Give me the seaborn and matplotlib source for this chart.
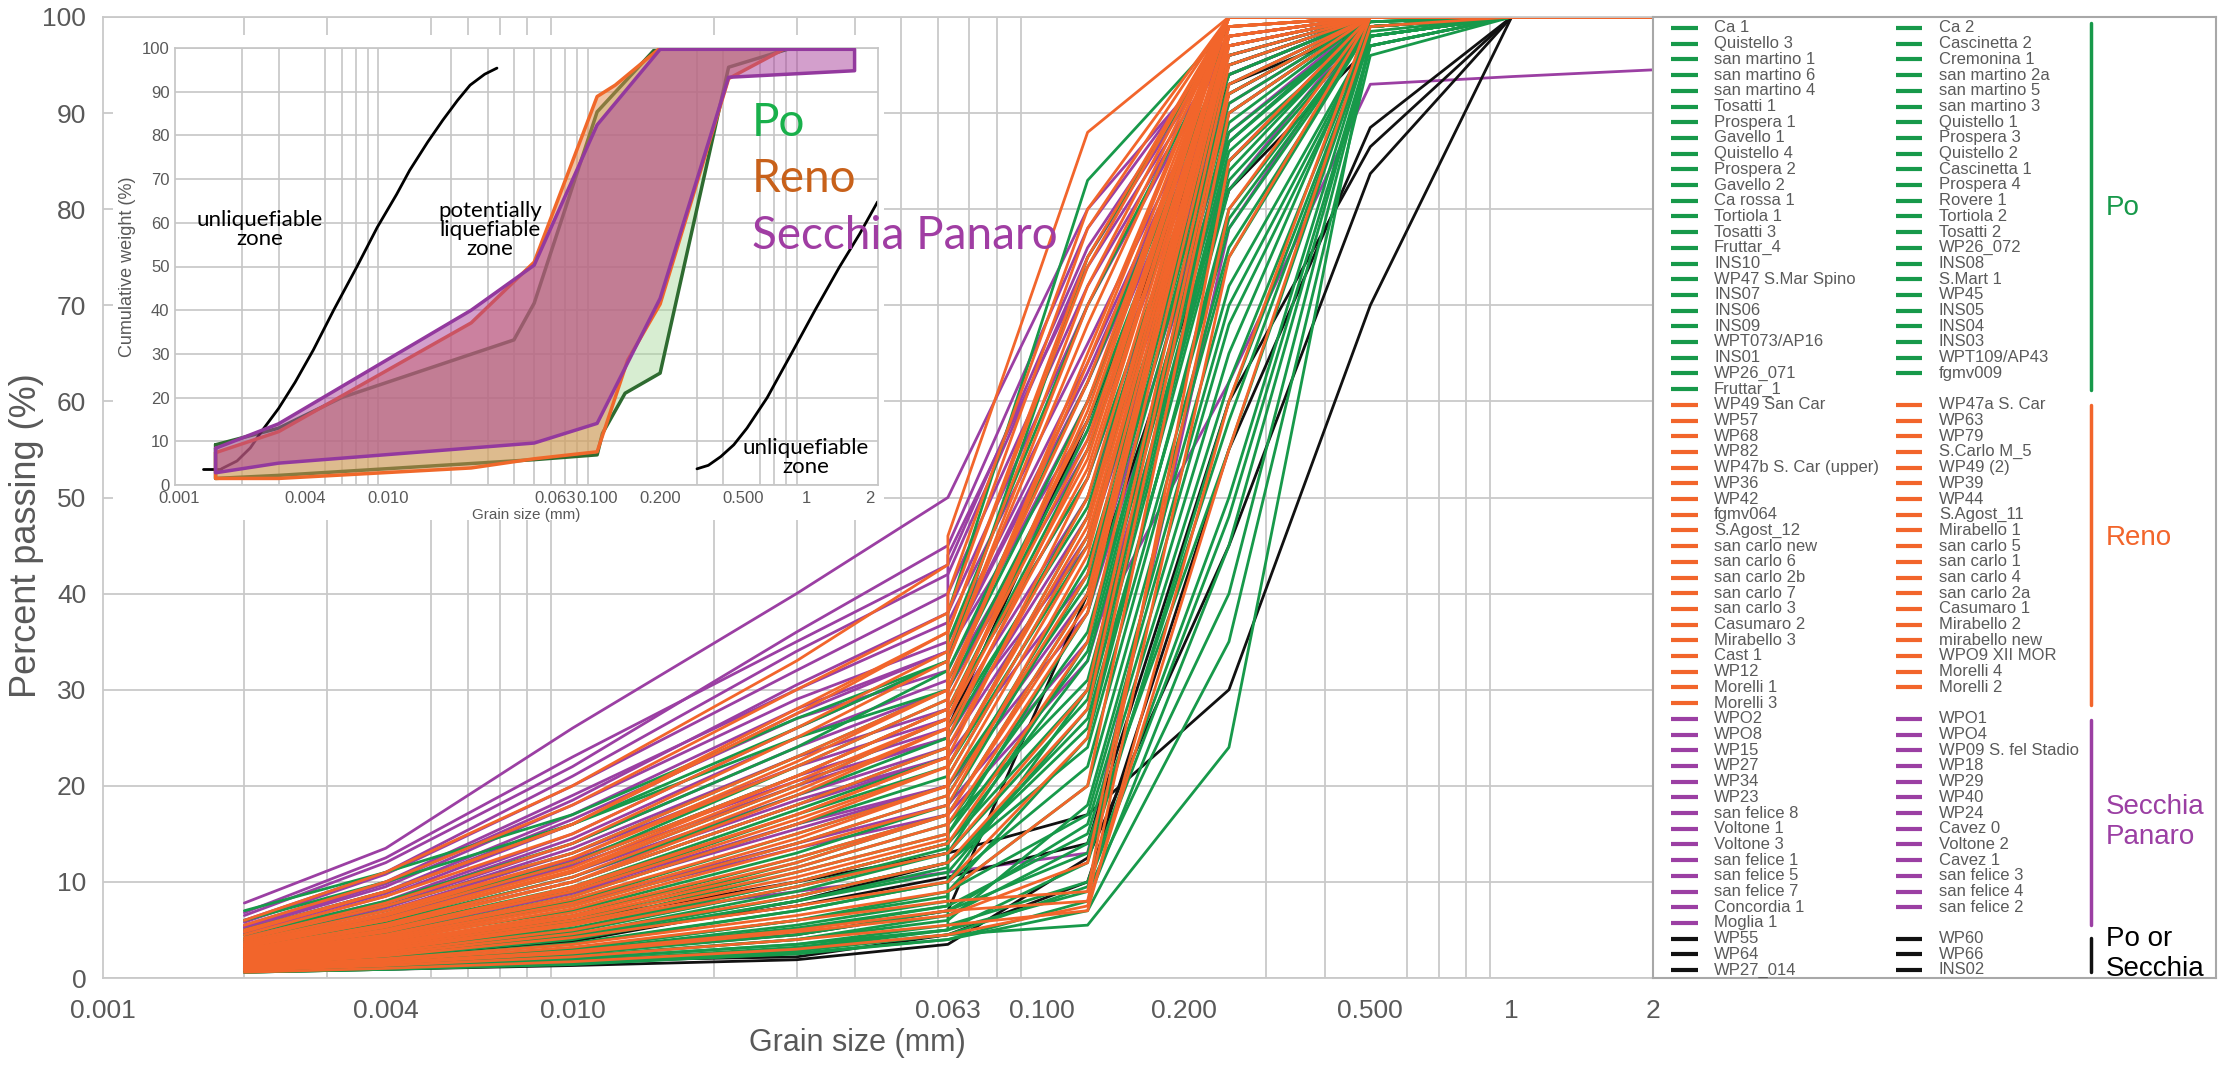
import matplotlib
matplotlib.use("Agg")
import matplotlib.pyplot as plt
import numpy as np
import pandas as pd
import seaborn as sns
from matplotlib.ticker import FixedLocator, NullFormatter

# ---------------- data ----------------
sizes = [0.002, 0.004, 0.01, 0.03, 0.063, 0.063, 0.125, 0.25, 0.5, 1, 2]

po_names = ["Ca 1", "Ca 2", "Quistello 3", "Cascinetta 2", "san martino 1", "Cremonina 1",
            "san martino 6", "san martino 2a", "san martino 4", "san martino 5", "Tosatti 1",
            "san martino 3", "Prospera 1", "Quistello 1", "Gavello 1", "Prospera 3", "Quistello 4",
            "Quistello 2", "Prospera 2", "Cascinetta 1", "Gavello 2", "Prospera 4", "Ca rossa 1",
            "Rovere 1", "Tortiola 1", "Tortiola 2", "Tosatti 3", "Tosatti 2", "Fruttar_4", "WP26_072",
            "INS10", "INS08", "WP47 S.Mar Spino", "S.Mart 1", "INS07", "WP45", "INS06", "INS05",
            "INS09", "INS04", "WPT073/AP16", "INS03", "INS01", "WPT109/AP43", "WP26_071", "fgmv009",
            "Fruttar_1"]
po_pass = [
    [1.2, 2.0, 3.5, 7, 10, 10, 30, 85, 99, 100, 100],
    [0.8, 1.3, 2.2, 4, 6, 6, 18, 70, 98, 100, 100],
    [2.5, 4.5, 8, 15, 20, 22, 45, 92, 100, 100, 100],
    [1.5, 2.5, 4.5, 9, 13, 13, 35, 88, 99.5, 100, 100],
    [0.7, 1.1, 1.8, 3, 5, 5, 12, 60, 98, 100, 100],
    [3.5, 6, 11, 20, 27, 27, 55, 95, 100, 100, 100],
    [1.0, 1.5, 2.5, 4.5, 7, 7, 16, 65, 99, 100, 100],
    [0.6, 0.9, 1.5, 2.5, 4, 4, 8, 45, 97, 100, 100],
    [1.1, 1.8, 3, 6, 9, 9, 25, 80, 99, 100, 100],
    [0.9, 1.4, 2.3, 4, 6.5, 6.5, 14, 55, 98, 100, 100],
    [4.5, 8, 14, 24, 32, 32, 62, 97, 100, 100, 100],
    [0.8, 1.2, 2, 3.5, 5.5, 5.5, 10, 50, 98, 100, 100],
    [2, 3.5, 6, 12, 17, 17, 40, 90, 100, 100, 100],
    [3, 5.5, 10, 18, 24, 28, 52, 94, 100, 100, 100],
    [1.8, 3, 5.5, 11, 15, 15, 38, 89, 100, 100, 100],
    [2.2, 4, 7, 13, 18, 18, 42, 91, 100, 100, 100],
    [5, 9, 16, 26, 33, 35, 70, 98, 100, 100, 100],
    [4, 7, 12, 22, 29, 30, 58, 96, 100, 100, 100],
    [1.6, 2.8, 5, 10, 14, 14, 33, 86, 99, 100, 100],
    [1.3, 2.2, 4, 8, 11, 11, 28, 82, 99, 100, 100],
    [2.8, 5, 9, 17, 22, 22, 48, 93, 100, 100, 100],
    [1.9, 3.2, 5.8, 11.5, 16, 16, 36, 87, 100, 100, 100],
    [0.9, 1.3, 2, 3.5, 5, 5, 9, 40, 97, 100, 100],
    [7, 11, 17, 27, 33, 33, 75, 99, 100, 100, 100],
    [1.4, 2.4, 4.2, 8.5, 12, 12, 27, 78, 99, 100, 100],
    [1.7, 2.9, 5.2, 10, 14, 14, 30, 84, 99.5, 100, 100],
    [3.2, 5.8, 10.5, 19, 25, 25, 50, 95, 100, 100, 100],
    [2.6, 4.6, 8.5, 16, 21, 21, 46, 92, 100, 100, 100],
    [1.0, 1.6, 2.8, 5.5, 8, 9, 20, 72, 98, 100, 100],
    [0.8, 1.1, 1.7, 3.2, 5, 7, 13, 58, 98, 100, 100],
    [1.5, 2.6, 4.8, 9.5, 13, 15, 34, 87, 99.5, 100, 100],
    [0.7, 1.0, 1.6, 3, 4.5, 4.5, 5.5, 24, 98, 100, 100],
    [2.4, 4.2, 7.5, 14, 19, 19, 43, 92, 100, 100, 100],
    [3.8, 6.5, 12, 21, 28, 28, 57, 96, 100, 100, 100],
    [1.2, 2, 3.6, 7, 10, 12, 26, 79, 99, 100, 100],
    [6, 10, 16, 25, 30, 38, 83, 99, 100, 100, 100],
    [1.1, 1.7, 3, 6, 8.5, 10, 22, 75, 99, 100, 100],
    [0.9, 1.5, 2.6, 5, 7.5, 9, 17, 68, 98, 100, 100],
    [2.1, 3.7, 6.5, 12.5, 17, 20, 41, 90, 100, 100, 100],
    [1.3, 2.3, 4.1, 8, 11.5, 13, 29, 83, 99, 100, 100],
    [0.6, 0.9, 1.4, 2.6, 4, 4, 7, 35, 96, 100, 100],
    [2.9, 5.2, 9.5, 17.5, 23, 26, 49, 94, 100, 100, 100],
    [1.6, 2.7, 4.9, 9.5, 13.5, 16, 31, 85, 99.5, 100, 100],
    [0.7, 1.0, 1.6, 2.8, 4.5, 4.5, 9.5, 48, 97, 100, 100],
    [4.2, 7.5, 13, 23, 30, 31, 60, 97, 100, 100, 100],
    [1.0, 1.6, 2.7, 5.2, 7.5, 7.5, 15, 62, 98.5, 100, 100],
    [1.4, 2.3, 4.3, 8.5, 12, 12, 24, 76, 99, 100, 100],
]

reno_names = ["WP49 San Car", "WP47a S. Car", "WP57", "WP63", "WP68", "WP79", "WP82", "S.Carlo M_5",
              "WP47b S. Car (upper)", "WP49 (2)", "WP36", "WP39", "WP42", "WP44", "fgmv064",
              "S.Agost_11", "S.Agost_12", "Mirabello 1", "san carlo new", "san carlo 5",
              "san carlo 6", "san carlo 1", "san carlo 2b", "san carlo 4", "san carlo 7",
              "san carlo 2a", "san carlo 3", "Casumaro 1", "Casumaro 2", "Mirabello 2",
              "Mirabello 3", "mirabello new", "Cast 1", "WPO9 XII MOR", "WP12", "Morelli 4",
              "Morelli 1", "Morelli 2", "Morelli 3"]
reno_pass = [
    [3, 5.5, 10, 19, 26, 30, 65, 100, 100, 100, 100],
    [2, 3.5, 6.5, 12, 17, 17, 40, 98, 100, 100, 100],
    [4, 7.5, 13, 23, 30, 36, 75, 100, 100, 100, 100],
    [1.5, 2.7, 5, 9.5, 13, 13, 30, 95, 100, 100, 100],
    [5, 9, 16, 28, 36, 40, 80, 100, 100, 100, 100],
    [2.5, 4.5, 8.5, 16, 22, 25, 55, 100, 100, 100, 100],
    [3.5, 6.5, 12, 21, 28, 33, 70, 100, 100, 100, 100],
    [1.2, 2, 3.5, 6.5, 9, 9, 20, 90, 100, 100, 100],
    [6, 11, 20, 33, 43, 46, 88, 100, 100, 100, 100],
    [2.8, 5, 9.5, 17, 23, 23, 52, 99, 100, 100, 100],
    [3.2, 6, 11, 20, 27, 27, 60, 100, 100, 100, 100],
    [1.8, 3.2, 6, 11, 15, 20, 45, 97, 100, 100, 100],
    [4.5, 8.5, 15, 26, 34, 34, 72, 100, 100, 100, 100],
    [2.2, 4, 7.5, 14, 19, 19, 42, 98, 100, 100, 100],
    [0.8, 1.3, 2.2, 4, 5.5, 5.5, 7, 60, 100, 100, 100],
    [1, 1.6, 2.8, 5, 7, 7, 8, 75, 100, 100, 100],
    [1.1, 1.8, 3.2, 6, 8, 8, 9, 85, 100, 100, 100],
    [3.8, 7, 12.5, 22, 29, 31, 62, 100, 100, 100, 100],
    [2.6, 4.8, 9, 16.5, 22, 22, 48, 99, 100, 100, 100],
    [3, 5.6, 10.5, 19.5, 26, 29, 58, 100, 100, 100, 100],
    [4.2, 7.8, 14, 25, 33, 33, 68, 100, 100, 100, 100],
    [2.4, 4.4, 8.2, 15, 20, 24, 50, 99, 100, 100, 100],
    [3.4, 6.2, 11.5, 21, 28, 28, 56, 100, 100, 100, 100],
    [2, 3.6, 6.8, 12.5, 17, 21, 46, 98, 100, 100, 100],
    [5.5, 10, 18, 30, 38, 38, 78, 100, 100, 100, 100],
    [1.6, 2.9, 5.5, 10, 14, 14, 35, 96, 100, 100, 100],
    [2.9, 5.3, 10, 18, 24, 27, 54, 100, 100, 100, 100],
    [1.3, 2.3, 4.2, 7.5, 10, 10, 25, 92, 100, 100, 100],
    [1.9, 3.4, 6.3, 11.5, 16, 16, 38, 97, 100, 100, 100],
    [3.6, 6.7, 12.5, 22.5, 30, 30, 64, 100, 100, 100, 100],
    [2.3, 4.2, 7.8, 14.5, 20, 22, 47, 99, 100, 100, 100],
    [4.8, 9, 16, 27.5, 36, 36, 74, 100, 100, 100, 100],
    [0.6, 1, 1.7, 3, 4.5, 4.5, 7.5, 55, 99, 100, 100],
    [1.4, 2.5, 4.6, 8.5, 12, 12, 28, 93, 100, 100, 100],
    [2.7, 5, 9.3, 17, 23, 26, 53, 99, 100, 100, 100],
    [1.7, 3, 5.7, 10.5, 14.5, 17, 39, 97, 100, 100, 100],
    [3.3, 6, 11.2, 20.5, 27, 27, 59, 100, 100, 100, 100],
    [2.1, 3.8, 7.2, 13.5, 18, 18, 44, 98, 100, 100, 100],
    [0.9, 1.5, 2.6, 4.8, 6.5, 6.5, 12, 80, 100, 100, 100],
]

sp_names = ["WPO2", "WPO1", "WPO8", "WPO4", "WP15", "WP09 S. fel Stadio", "WP27", "WP18", "WP34",
            "WP29", "WP23", "WP40", "san felice 8", "WP24", "Voltone 1", "Cavez 0", "Voltone 3",
            "Voltone 2", "san felice 1", "Cavez 1", "san felice 5", "san felice 3", "san felice 7",
            "san felice 4", "Concordia 1", "san felice 2", "Moglia 1"]
sp_pass = [
    [7.8, 13.5, 26, 40, 50, 50, 80, 97, 100, 100, 100],
    [5, 9, 17, 28, 34, 34, 62, 95, 100, 100, 100],
    [6, 11, 21, 34, 42, 42, 75, 98, 100, 100, 100],
    [4, 7.5, 14, 24, 30, 30, 55, 94, 100, 100, 100],
    [3.5, 6.5, 12, 21, 26, 26, 45, 90, 100, 100, 100],
    [4.5, 8, 15, 26, 33, 38, 70, 97, 100, 100, 100],
    [5.5, 10, 19, 30, 37, 37, 66, 96, 100, 100, 100],
    [3, 5.5, 10, 18, 23, 23, 42, 88, 100, 100, 100],
    [6.5, 12, 22, 36, 45, 45, 78, 98, 100, 100, 100],
    [2.8, 5, 9, 16, 20, 20, 38, 85, 100, 100, 100],
    [4.8, 8.8, 16.5, 27, 32, 32, 60, 95, 100, 100, 100],
    [3.8, 7, 13, 22, 27, 27, 50, 92, 100, 100, 100],
    [5.2, 9.5, 18, 29, 35, 35, 64, 96, 100, 100, 100],
    [2.5, 4.5, 8, 14, 18, 18, 35, 62, 93, 93.8, 94.5],
    [3.3, 6, 11, 19, 24, 24, 46, 91, 100, 100, 100],
    [4.2, 7.8, 14.5, 25, 31, 34, 58, 94, 100, 100, 100],
    [3.6, 6.6, 12.3, 20.5, 25, 28, 52, 93, 100, 100, 100],
    [6.8, 12.5, 23, 35, 43, 43, 76, 98, 100, 100, 100],
    [4.6, 8.5, 16, 27.5, 34, 34, 63, 96, 100, 100, 100],
    [2.6, 4.8, 8.8, 15.5, 20, 20, 40, 87, 100, 100, 100],
    [5.8, 10.8, 20, 32, 40, 40, 72, 97, 100, 100, 100],
    [3.1, 5.7, 10.5, 18.5, 23, 30, 57, 95, 100, 100, 100],
    [4, 7.3, 13.5, 23, 28, 31, 56, 94, 100, 100, 100],
    [2.3, 4.2, 7.8, 13.5, 17, 17, 33, 82, 100, 100, 100],
    [2.1, 3.5, 6, 9, 11, 11, 13, 78, 100, 100, 100],
    [3.4, 6.3, 11.7, 20, 25, 25, 48, 92, 100, 100, 100],
    [5.3, 9.8, 18.5, 30.5, 38, 44, 74, 97, 100, 100, 100],
]

bk_names = ["WP55", "WP60", "WP64", "WP66", "WP27_014", "INS02"]
bk_pass = [
    [1.0, 1.3, 1.8, 2.2, 4.5, 4.5, 10, 55, 88.5, 100, 100],
    [2.0, 3.5, 6, 10, 13, 13, 17, 30, 70, 100, 100],
    [1.5, 2.6, 4.3, 7.5, 10.5, 10.5, 14, 60, 86.5, 100, 100],
    [1.2, 2.2, 3.8, 8, 12, 26, 58, 93, 99, 100, 100],
    [0.6, 0.9, 1.3, 1.9, 3.5, 3.5, 12.5, 45, 83.7, 100, 100],
    [1.0, 1.6, 2.6, 4.5, 7, 7, 40, 82, 97, 100, 100],
]

group_labels = ["Po", "Reno", "Secchia\nPanaro", "Po or\nSecchia"]
group_colors = ["#17994a", "#f2652b", "#9b3fa3", "#111111"]

xtick_vals = [0.001, 0.004, 0.010, 0.063, 0.100, 0.200, 0.500, 1, 2]
xtick_text = ["0.001", "0.004", "0.010", "0.063", "0.100", "0.200", "0.500", "1", "2"]

# inset data
inset_stub_x = [0.0013, 0.0016]
inset_stub_y = [3.7, 3.7]
inset_left_x = [0.0016, 0.0019, 0.0022, 0.0025, 0.0030, 0.0036, 0.0044, 0.0055, 0.0071, 0.0089,
                0.0110, 0.0127, 0.0155, 0.0183, 0.0215, 0.0247, 0.0290, 0.0332]
inset_left_y = [3.7, 5.5, 8.5, 12.4, 17.5, 23.5, 30.9, 40, 49.9, 59, 66.5, 72, 78.5, 83.5, 88,
                91.5, 94, 95.4]
inset_right_x = [0.30, 0.34, 0.39, 0.45, 0.52, 0.65, 0.867, 1.1, 1.44, 1.8, 2.19]
inset_right_y = [3.7, 4.5, 6.5, 9.2, 13, 20, 30.9, 40, 49.9, 57.5, 64.8]
po_env_x = [0.0015, 0.003, 0.006, 0.04, 0.05, 0.1, 0.2, 0.85, 0.85, 0.425, 0.2, 0.136, 0.106, 0.1, 0.05, 0.003, 0.0015]
po_env_y = [9.2, 13, 20, 33.2, 41.6, 85.4, 101, 101, 100, 95.6, 25.6, 21, 11.8, 6.9, 5.8, 2.2, 1.5]
reno_env_x = [0.0015, 0.003, 0.025, 0.05, 0.1, 0.122, 0.2, 0.85, 0.8, 0.425, 0.2, 0.14, 0.1, 0.05, 0.025, 0.003, 0.0015]
reno_env_y = [7.4, 12.2, 37.1, 51, 88.9, 91.5, 100, 100.5, 100, 93, 41.4, 28.6, 7.6, 6, 3.9, 1.5, 1.5]
sp_env_x = [0.0015, 0.003, 0.025, 0.05, 0.1, 0.2, 1.7, 1.7, 0.425, 0.2, 0.1, 0.05, 0.003, 0.0015]
sp_env_y = [8.4, 14, 40, 50.3, 82.4, 99.7, 99.7, 94.8, 93.3, 42.7, 14.1, 9.6, 5, 2.8]

# ---------------- figure ----------------
sns.set_theme(style="white")
plt.rcParams["font.family"] = ["Liberation Sans", "DejaVu Sans"]

W, H = 2221, 1067
fig = plt.figure(figsize=(W / 100, H / 100), dpi=100)


def frac(x0, y0, x1, y1):
    return [x0 / W, 1 - y1 / H, (x1 - x0) / W, (y1 - y0) / H]


GRID = "#c9c9c9"
TXT = "#595959"

ax = fig.add_axes(frac(103, 17, 1653, 978))
ax.set_xscale("log")

rows = []
for gi, (names, vals) in enumerate([(po_names, po_pass), (reno_names, reno_pass),
                                     (sp_names, sp_pass), (bk_names, bk_pass)]):
    for n, v in zip(names, vals):
        for k, (s, p) in enumerate(zip(sizes, v)):
            rows.append({"size": s, "passing": p, "sample": n, "group": gi, "k": k})
df = pd.DataFrame(rows)

for gi in [2, 3, 0, 1]:
    sub = df[df["group"] == gi]
    sns.lineplot(data=sub, x="size", y="passing", units="sample", estimator=None, sort=False,
                 color=group_colors[gi], lw=2.0, ax=ax, legend=False)

ax.set_xlim(0.001, 2)
ax.set_ylim(0, 100)
grid_x = [m * 10.0 ** e for e in (-3, -2, -1, 0) for m in range(1, 10) if m * 10.0 ** e <= 1.0001]
ax.xaxis.set_major_locator(FixedLocator(xtick_vals))
ax.set_xticklabels(xtick_text)
ax.xaxis.set_minor_locator(FixedLocator(grid_x))
ax.xaxis.set_minor_formatter(NullFormatter())
ax.set_yticks(range(0, 101, 10))
ax.grid(False)
ax.xaxis.grid(True, which="minor", color=GRID, lw=1.3)
ax.yaxis.grid(True, which="major", color=GRID, lw=1.3)
ax.set_axisbelow(True)
ax.tick_params(axis="x", which="minor", length=0)
ax.tick_params(axis="x", which="major", length=5, color=GRID, labelsize=19, labelcolor=TXT, pad=10)
ax.tick_params(axis="y", length=0, labelsize=19, labelcolor=TXT, pad=12)
for sp in ax.spines.values():
    sp.set_color(GRID)
    sp.set_linewidth(1.3)
ax.set_xlabel("Grain size (mm)", fontsize=22, color=TXT)
ax.set_ylabel("Percent passing (%)", fontsize=26, color=TXT)
ax.xaxis.set_label_coords(0.487, -0.052)
ax.yaxis.set_label_coords(-0.038, 0.46)

# ---------------- inset ----------------
bg = fig.add_axes(frac(113, 35, 884, 520))
bg.set_facecolor("white")
bg.set_xticks([])
bg.set_yticks([])
for sp in bg.spines.values():
    sp.set_visible(False)
bg.set_zorder(2)

ins = fig.add_axes(frac(175, 48, 878, 485))
ins.set_zorder(3)
ins.set_xscale("log")
ins.set_xlim(0.00096, 2.2)
ins.set_ylim(0, 100)
ins.fill(po_env_x, po_env_y, facecolor="#a8d89a", alpha=0.45, edgecolor="none", zorder=2)
ins.plot(po_env_x + [po_env_x[0]], po_env_y + [po_env_y[0]], color="#2e6b30", lw=2.5, zorder=2)
ins.fill(reno_env_x, reno_env_y, facecolor="#e38a4c", alpha=0.5, edgecolor="none", zorder=3)
ins.plot(reno_env_x + [reno_env_x[0]], reno_env_y + [reno_env_y[0]], color="#f0682a", lw=2.5, zorder=3)
ins.fill(sp_env_x, sp_env_y, facecolor="#a8409a", alpha=0.5, edgecolor="none", zorder=4)
ins.plot(sp_env_x + [sp_env_x[0]], sp_env_y + [sp_env_y[0]], color="#93399e", lw=2.5, zorder=4)
sns.lineplot(x=inset_left_x, y=inset_left_y, color="black", lw=2.0, ax=ins, sort=False)
sns.lineplot(x=inset_right_x, y=inset_right_y, color="black", lw=2.0, ax=ins, sort=False)
sns.lineplot(x=inset_stub_x, y=inset_stub_y, color="black", lw=2.0, ax=ins, sort=False)

ins.xaxis.set_major_locator(FixedLocator(xtick_vals))
ins.set_xticklabels(xtick_text)
ins.xaxis.set_minor_locator(FixedLocator(grid_x + [2]))
ins.xaxis.set_minor_formatter(NullFormatter())
ins.set_yticks(range(0, 101, 10))
ins.grid(False)
ins.xaxis.grid(True, which="minor", color="#c6c6c6", lw=1.2)
ins.yaxis.grid(True, which="major", color="#c6c6c6", lw=1.2)
ins.set_axisbelow(True)
ins.tick_params(axis="both", which="both", length=0, labelsize=12, labelcolor=TXT, pad=4)
for sp in ins.spines.values():
    sp.set_color("#c6c6c6")
ins.set_xlabel("Grain size (mm)", fontsize=11, color=TXT, labelpad=2)
ins.set_ylabel("Cumulative weight (%)", fontsize=13, color=TXT, labelpad=4)

ann_font = dict(fontsize=16, color="black", ha="center", va="center", linespacing=0.95, family="Lato")
ins.text(0.00244, 58.4, "unliquefiable\nzone", **ann_font)
ins.text(0.0307, 58.4, "potentially\nliquefiable\nzone", **ann_font)
ins.text(0.99, 6.3, "unliquefiable\nzone", **ann_font)

big = dict(fontsize=33, family="Lato", va="center", ha="left", zorder=10)
fig.text(752 / W, 1 - 123 / H, "Po", color="#19b04b", **big)
fig.text(752 / W, 1 - 179 / H, "Reno", color="#c8611a", **big)
fig.text(752 / W, 1 - 236 / H, "Secchia Panaro", color="#a03da3", **big)

# ---------------- legend panel ----------------
lg = fig.add_axes(frac(1653, 17, 2216, 978))
lg.set_xlim(1653, 2216)
lg.set_ylim(978, 17)
lg.set_xticks([])
lg.set_yticks([])
lg.set_facecolor("white")
for sp in lg.spines.values():
    sp.set_color("#a8a8a8")
    sp.set_linewidth(1.5)

row_h = 15.7
start_rows = [0, 24, 44, 58]
bracket = [(23, 390), (405, 705), (720, 925), (938, 972)]
label_y = [208, 538, 822, 954]
for gi, names in enumerate([po_names, reno_names, sp_names, bk_names]):
    c = group_colors[gi]
    for k, n in enumerate(names):
        r = start_rows[gi] + k // 2
        y = 28 + row_h * r
        if k % 2 == 0:
            hx, tx = (1671, 1698), 1714
        else:
            hx, tx = (1896, 1922), 1939
        lg.plot(hx, [y, y], color=c, lw=3, solid_capstyle="butt")
        lg.text(tx, y, n, fontsize=12, color="#5a5a5a", va="center", ha="left")
    lg.plot([2091, 2091], bracket[gi], color=c, lw=2.5)
    lg.text(2106, label_y[gi], group_labels[gi], color=c if gi < 3 else "black",
            fontsize=20, va="center", ha="left", linespacing=1.15)

fig.savefig("out.png", dpi=100, facecolor="white")
